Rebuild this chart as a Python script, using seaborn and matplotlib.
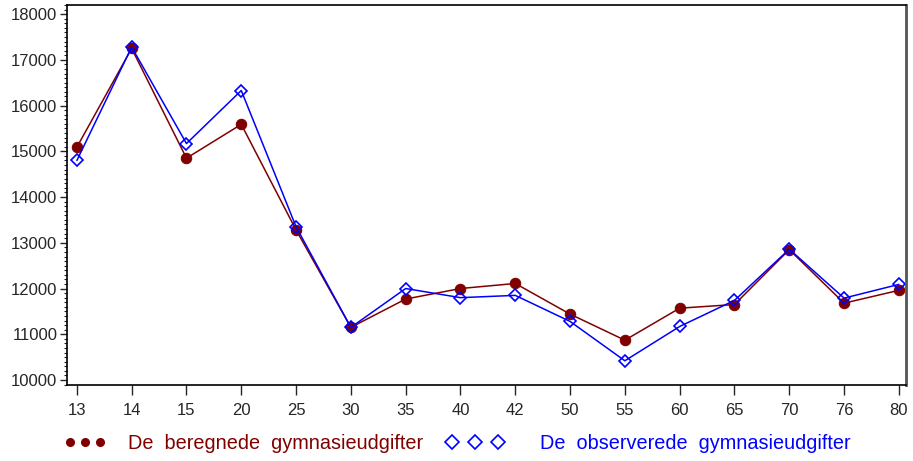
import numpy as np
import pandas as pd
import matplotlib
matplotlib.use("Agg")
import matplotlib.pyplot as plt
from matplotlib.ticker import MultipleLocator
from matplotlib.lines import Line2D
import seaborn as sns

categories = ["13", "14", "15", "20", "25", "30", "35", "40", "42", "50", "55", "60", "65", "70", "76", "80"]
beregnede = [15090, 17250, 14850, 15590, 13280, 11150, 11770, 12000, 12110, 11440, 10870, 11570, 11650, 12850, 11680, 11960]
observerede = [14800, 17280, 15170, 16330, 13350, 11150, 12000, 11800, 11850, 11280, 10420, 11170, 11740, 12860, 11790, 12090]
label_ber = "De  beregnede  gymnasieudgifter"
label_obs = "De  observerede  gymnasieudgifter"

sns.set_style("white")
plt.rcParams['font.family'] = ['Liberation Sans', 'DejaVu Sans']

red = "#800000"
blue = "#0000FF"

pos = np.arange(len(categories))
df = pd.DataFrame({"pos": pos, "ber": beregnede, "obs": observerede})

fig = plt.figure(figsize=(9.13, 4.61), dpi=100)
ax = fig.add_axes([67/913, 1-385/461, (906-67)/913, (385-5)/461])

sns.lineplot(data=df, x="pos", y="ber", ax=ax, color=red, lw=1.1,
             marker="o", markersize=7.5, markerfacecolor=red, markeredgecolor=red)
sns.lineplot(data=df, x="pos", y="obs", ax=ax, color=blue, lw=1.1,
             marker="D", markersize=6, markerfacecolor="none", markeredgecolor=blue, markeredgewidth=1.2)

ax.set_xlim(-0.18, 15.13)
ax.set_ylim(9890, 18200)
ax.set_xticks(pos)
ax.set_xticklabels(categories)
ax.yaxis.set_major_locator(MultipleLocator(1000))
ax.yaxis.set_minor_locator(MultipleLocator(100))
ax.set_xlabel("")
ax.set_ylabel("")
ax.tick_params(axis='x', which='major', direction='out', length=7, width=1, labelsize=12, pad=6, bottom=True)
ax.tick_params(axis='y', which='major', direction='out', length=5, width=1, labelsize=12, pad=2, left=True)
ax.tick_params(axis='y', which='minor', direction='out', length=2.5, width=0.8, left=True)
for s in ax.spines.values():
    s.set_color("black")
    s.set_linewidth(1.2)
ax.spines['right'].set_color("#555555")
ax.spines['right'].set_linewidth(2)
ax.grid(False)

h1 = Line2D([], [], color=red, marker="o", linestyle="none", markersize=5.5)
h2 = Line2D([], [], color=blue, marker="D", linestyle="none", markersize=7,
            markerfacecolor="none", markeredgewidth=1.2)
yleg = 1 - 443/461
leg1 = fig.legend([h1], [label_ber], loc="center left", bbox_to_anchor=(64/913, yleg),
                  frameon=False, numpoints=3, handlelength=2.1, handletextpad=1.1,
                  borderpad=0, borderaxespad=0, fontsize=14.3)
leg1.get_texts()[0].set_color(red)
leg2 = fig.legend([h2], [label_obs], loc="center left", bbox_to_anchor=(446/913, yleg),
                  frameon=False, numpoints=3, handlelength=2.9, handletextpad=1.85,
                  borderpad=0, borderaxespad=0, fontsize=14.3)
leg2.get_texts()[0].set_color(blue)

fig.savefig("out.png", dpi=100)
